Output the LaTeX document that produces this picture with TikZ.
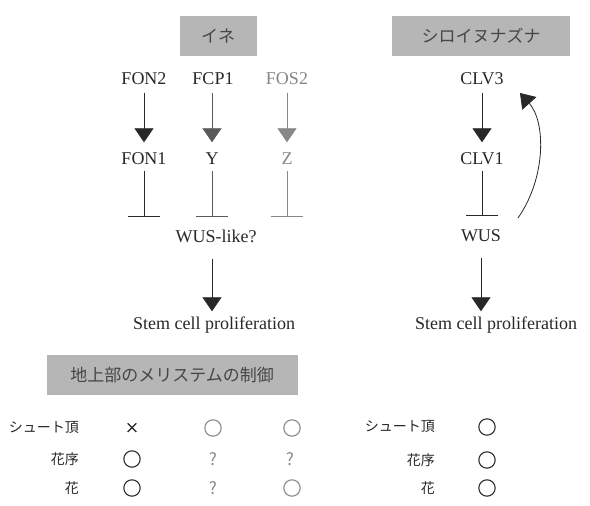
\documentclass[tikz,border=0pt]{standalone}
\usepackage{fontspec}
\setmainfont{Liberation Serif}
\newfontfamily\jp{Noto Sans CJK JP}
\newfontfamily\jpb{Noto Sans CJK JP}[FakeBold=1.2]
\usetikzlibrary{arrows.meta}
\definecolor{boxgray}{RGB}{182,182,182}
\definecolor{boxtext}{RGB}{70,70,70}
\definecolor{lite}{RGB}{135,135,135}
\definecolor{mid}{RGB}{90,90,90}
\definecolor{ink}{RGB}{40,40,40}
\tikzset{
  gene/.style={font=\fontsize{18}{20}\selectfont, text=ink, inner sep=2pt, text height=13pt, text depth=4pt},
  gbox/.style={fill=boxgray, text=boxtext, font=\jp\fontsize{17}{19}\selectfont, inner sep=0pt},
  arr/.style={-{Triangle[width=19pt,length=14pt]}, line width=0.8pt, ink},
  inh/.style={-{Bar[width=32pt]}, line width=0.8pt, ink},
  lab/.style={font=\jp\fontsize{14}{16}\selectfont, text=ink, anchor=east, inner sep=0pt},
  sym/.style={font=\jpb\fontsize{19}{21}\selectfont, text=ink, inner sep=0pt},
  qm/.style={font=\jp\fontsize{17}{19}\selectfont, text=lite, inner sep=0pt},
}
\begin{document}
\begin{tikzpicture}[x=1pt,y=-1pt]
\useasboundingbox (0,0) rectangle (590,506);
\fill[white] (0,0) rectangle (590,506);
% header boxes
\node[gbox, minimum width=77pt, minimum height=40pt] (ine) at (218,36) {イネ};
\node[gbox, minimum width=178pt, minimum height=40pt] (ara) at (481,36) {シロイヌナズナ};
% rice
\node[gene] (fon2) at (144,80) {FON2};
\node[gene] (fcp1) at (213,80) {FCP1};
\node[gene, text=lite] (fos2) at (287,80) {FOS2};
\node[gene] (fon1) at (144,160) {FON1};
\node[gene] (y) at (212,160) {Y};
\node[gene, text=lite] (z) at (287,160) {Z};
\node[gene] (wuslike) at (216,238) {WUS-like?};
\node[gene] (stem1) at (214,325) {Stem cell proliferation};
\draw[arr, shorten <=2pt, shorten >=7pt] (fon2.south) -- (fon1.north);
\draw[arr, mid, shorten <=2pt, shorten >=7pt] (y.north |- fcp1.south) -- (y.north);
\draw[arr, lite, shorten <=2pt, shorten >=7pt] (fos2.south) -- (z.north);
\draw[inh, shorten >=11pt] (fon1.south) -- (fon1.south |- wuslike.north);
\draw[inh, mid, shorten >=11pt] (y.south) -- (y.south |- wuslike.north);
\draw[inh, lite, shorten >=11pt] (z.south) -- (z.south |- wuslike.north);
\draw[arr, shorten <=10pt, shorten >=3pt] (y.south |- wuslike.south) -- (y.south |- stem1.north);
% arabidopsis
\node[gene] (clv3) at (482,80) {CLV3};
\node[gene] (clv1) at (482,160) {CLV1};
\node[gene] (wus) at (481,237) {WUS};
\node[gene] (stem2) at (496,325) {Stem cell proliferation};
\draw[arr, shorten <=2pt, shorten >=7pt] (clv3.south) -- (clv1.north);
\draw[inh, shorten >=11pt] (clv1.south) -- (clv1.south |- wus.north);
\draw[arr, shorten <=10pt, shorten >=3pt] (wus.south) -- (wus.south |- stem2.north);
\coordinate (fb1) at (518,218);
\coordinate (fb2) at (520,93);
\draw[arr] (fb1) .. controls (546,178) and (546,122) .. (fb2);
% table
\node[gbox, minimum width=251pt, minimum height=40pt] (meri) at (172,375) {地上部のメリステムの制御};
\node[lab] (l1) at (79,428) {シュート頂};
\node[lab] (l2) at (79,459) {花序};
\node[lab] (l3) at (79,488) {花};
\node[sym, font=\jpb\fontsize{14}{16}\selectfont] (s11) at (132,428) {×};
\node[sym, text=lite] (s12) at (213,428) {○};
\node[sym, text=lite] (s13) at (292,428) {○};
\node[sym] (s21) at (132,459) {○};
\node[qm] (s22) at (213,459) {?};
\node[qm] (s23) at (290,459) {?};
\node[sym] (s31) at (132,488) {○};
\node[qm] (s32) at (213,488) {?};
\node[sym, text=lite] (s33) at (292,488) {○};
\node[lab] (r1) at (435,427) {シュート頂};
\node[lab] (r2) at (435,460) {花序};
\node[lab] (r3) at (435,488) {花};
\node[sym] (t1) at (487,427) {○};
\node[sym] (t2) at (487,460) {○};
\node[sym] (t3) at (487,488) {○};
\end{tikzpicture}
\end{document}
